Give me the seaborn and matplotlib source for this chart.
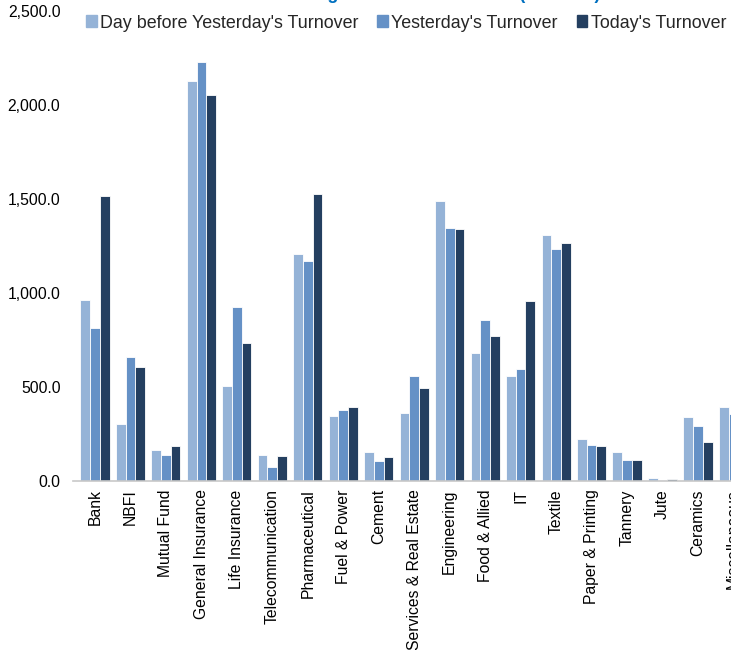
import numpy as np
import pandas as pd
import seaborn as sns
import matplotlib.pyplot as plt
from matplotlib.ticker import FuncFormatter


# sectors shown on the x axis (last one is cut off at the right edge)
SECTORS = ['Bank', 'NBFI', 'Mutual Fund', 'General Insurance', 'Life Insurance',
           'Telecommunication', 'Pharmaceutical', 'Fuel & Power', 'Cement',
           'Services & Real Estate', 'Engineering', 'Food & Allied', 'IT',
           'Textile', 'Paper & Printing', 'Tannery', 'Jute', 'Ceramics',
           'Miscellaneous']

SERIES = ["Day before Yesterday's Turnover", "Yesterday's Turnover", "Today's Turnover"]

DAY_BEFORE = [963, 303, 165, 2128, 505, 138, 1207, 346, 152, 364,
              1489, 683, 561, 1306, 221, 153, 15, 338, 395]
YESTERDAY = [814, 660, 138, 2230, 926, 74, 1170, 378, 104, 556,
             1348, 859, 598, 1233, 189, 111, 5, 293, 355]
TODAY = [1516, 606, 186, 2053, 734, 133, 1527, 394, 130, 497,
         1338, 769, 960, 1265, 185, 114, 13, 206, 300]

PALETTE = ['#95B3D7', '#6591C6', '#243F60']
FONT = ['Liberation Sans', 'DejaVu Sans']


def build_frame():
    frames = []
    for name, vals in zip(SERIES, [DAY_BEFORE, YESTERDAY, TODAY]):
        frames.append(pd.DataFrame({'sector': SECTORS, 'series': name, 'value': vals}))
    return pd.concat(frames, ignore_index=True)


def main():
    sns.set_theme(style='white')
    plt.rcParams['font.family'] = FONT

    df = build_frame()

    fig = plt.figure(figsize=(7.31, 6.5), dpi=100)
    # plot area runs past the right edge of the picture, like the cropped original
    x0, x1 = -0.62, 18.6
    px_per_cat = 35.47
    ax = fig.add_axes([73 / 731, 1 - 481 / 650, (x1 - x0) * px_per_cat / 731, 470 / 650])

    sns.barplot(data=df, x='sector', y='value', hue='series', order=SECTORS,
                hue_order=SERIES, palette=PALETTE, saturation=1, width=0.82,
                edgecolor='white', linewidth=0.6, errorbar=None, ax=ax)

    ax.set_xlim(x0, x1)
    ax.set_ylim(0, 2500)
    ax.set_yticks(np.arange(0, 2501, 500))
    ax.yaxis.set_major_formatter(FuncFormatter(lambda v, p: f'{v:,.1f}'))

    ax.set_xlabel('')
    ax.set_ylabel('')
    ax.tick_params(axis='x', length=0, pad=6, labelsize=11.3, rotation=90, colors='black')
    ax.tick_params(axis='y', length=0, pad=9, labelsize=11.3, colors='black')

    for s in ['top', 'right', 'left']:
        ax.spines[s].set_visible(False)
    ax.spines['bottom'].set_color('#C8C8C8')
    ax.spines['bottom'].set_linewidth(1.2)

    ax.legend_.remove()
    handles = [plt.Rectangle((0, 0), 1, 1, color=c) for c in PALETTE]
    fig.legend(handles, SERIES, loc='center left', bbox_to_anchor=(86 / 731, 1 - 23 / 650),
               ncol=3, frameon=False, fontsize=12.9, handlelength=0.6, handleheight=0.6,
               handletextpad=0.18, columnspacing=1.05, borderaxespad=0, borderpad=0)

    # chart title, mostly cropped away at the top of the picture
    fig.text(600 / 731, 1 + 1 / 650, 'Sector-wise Trading Turnover Movement (BDT mn)',
             ha='right', va='baseline', fontsize=13, fontweight='bold', color='#0070C0')

    fig.savefig('out.png', dpi=100)


main()
